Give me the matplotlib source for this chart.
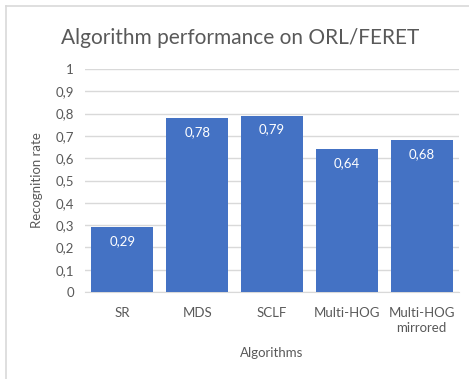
import matplotlib.pyplot as plt
import numpy as np
from matplotlib.lines import Line2D

# Recognition rate per algorithm
algorithms = ['SR', 'MDS', 'SCLF', 'Multi-HOG', 'Multi-HOG\nmirrored']
rates = [0.29, 0.78, 0.79, 0.64, 0.68]
y_ticks = [0, 0.1, 0.2, 0.3, 0.4, 0.5, 0.6, 0.7, 0.8, 0.9, 1]

plt.rcParams['font.family'] = ['Lato', 'DejaVu Sans']
text_color = '#595959'
bar_color = '#4472C4'

fig = plt.figure(figsize=(4.69, 3.79), dpi=100)
ax = fig.add_axes([85 / 469, 1 - 292 / 379, 374 / 469, 223 / 379])

x = np.arange(len(algorithms))
bars = ax.bar(x, rates, width=0.83, color=bar_color, zorder=3)

for rect, val in zip(bars, rates):
    ax.text(rect.get_x() + rect.get_width() / 2, val - 0.035,
            f'{val:.2f}'.replace('.', ','), ha='center', va='top',
            color='white', fontsize=9.5, zorder=4)

ax.set_xlim(-0.5, len(algorithms) - 0.5)
ax.set_ylim(0, 1)
ax.set_yticks(y_ticks)
ax.set_yticklabels([f'{t:g}'.replace('.', ',') for t in y_ticks])
ax.set_xticks(x)
ax.set_xticklabels(algorithms, linespacing=1.3)
ax.tick_params(axis='both', length=0, labelsize=9.5, colors=text_color)
ax.tick_params(axis='x', pad=11)
ax.tick_params(axis='y', pad=8)

ax.grid(axis='y', color='#d9d9d9', linewidth=1, zorder=0)
for side in ['top', 'right', 'left']:
    ax.spines[side].set_visible(False)
ax.spines['bottom'].set_color('#d9d9d9')

ax.set_ylabel('Recognition rate', fontsize=9.5, color=text_color, labelpad=9)
ax.set_xlabel('Algorithms', fontsize=9.5, color=text_color, labelpad=9)
fig.text(240 / 469, 1 - 38 / 379, 'Algorithm performance on ORL/FERET',
         ha='center', va='center', fontsize=15, color=text_color)

# chart frame: only left and top edges
fig.add_artist(Line2D([6 / 469, 6 / 469], [0, 1 - 6 / 379], transform=fig.transFigure,
                      color='#d9d9d9', linewidth=1.2))
fig.add_artist(Line2D([6 / 469, 1], [1 - 6 / 379, 1 - 6 / 379], transform=fig.transFigure,
                      color='#d9d9d9', linewidth=1.2))

fig.savefig('out.png', dpi=100)
